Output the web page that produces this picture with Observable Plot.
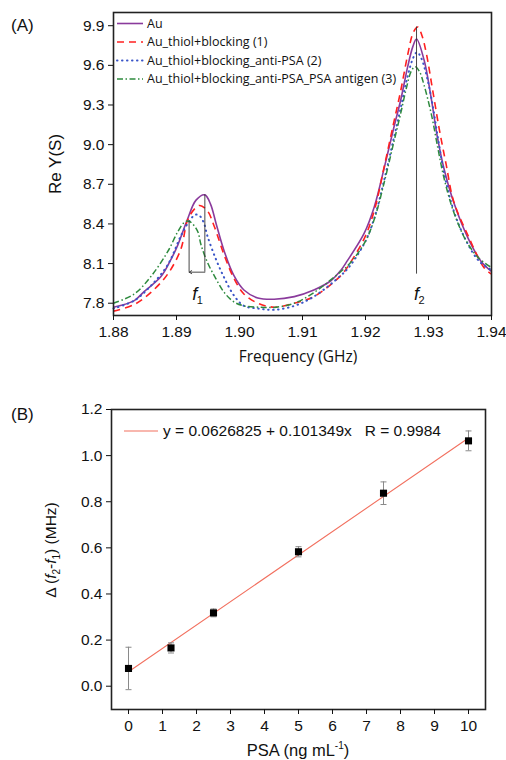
<!DOCTYPE html>
<html>
<head>
<meta charset="utf-8">
<script src="https://cdn.jsdelivr.net/npm/d3@7"></script>
<script src="https://cdn.jsdelivr.net/npm/@observablehq/plot@0.6"></script>
<style>
  html, body { margin: 0; padding: 0; background: #fff; }
  #wrap { width: 506px; height: 760px; overflow: hidden; }
  svg { display: block; }
</style>
</head>
<body>
<div id="wrap"></div>
<script>
// ---------- Panel A data ----------
const freqAu = [1.880,1.8833,1.8849,1.8875,1.8890,1.8902,1.8917,1.8931,1.8945,1.8954,1.8963,1.8976,1.8991,1.9007,1.9029,1.9055,1.9087,1.9118,1.9145,1.9161,1.9171,1.9198,1.9214,1.9230,1.9245,1.9256,1.9267,1.9275,1.9281,1.9293,1.9304,1.9314,1.9325,1.9341,1.9362,1.9383,1.9400];
const reAu   = [7.77,7.82,7.89,8.00,8.12,8.24,8.43,8.58,8.62,8.55,8.40,8.19,8.01,7.90,7.84,7.83,7.85,7.90,7.97,8.05,8.12,8.33,8.53,8.83,9.13,9.34,9.59,9.74,9.80,9.64,9.36,9.06,8.81,8.55,8.30,8.12,8.04];

const freqBlk = [1.880,1.8833,1.8859,1.8886,1.8907,1.8917,1.8928,1.8937,1.8949,1.8960,1.8976,1.8991,1.9007,1.9029,1.9055,1.9087,1.9118,1.9161,1.9175,1.9200,1.9215,1.9230,1.9245,1.9256,1.9267,1.9276,1.9283,1.9290,1.9297,1.9306,1.9317,1.9328,1.9340,1.9362,1.9388,1.9400];
const reBlk   = [7.74,7.79,7.88,8.02,8.21,8.42,8.51,8.54,8.50,8.38,8.16,7.99,7.87,7.80,7.77,7.80,7.85,8.01,8.10,8.31,8.52,8.84,9.17,9.41,9.68,9.85,9.89,9.82,9.68,9.43,9.12,8.85,8.57,8.32,8.07,8.02];

const freqAnti = [1.880,1.8833,1.8859,1.8886,1.8907,1.8920,1.8930,1.8937,1.8944,1.8949,1.8962,1.8976,1.8991,1.9007,1.9029,1.9055,1.9087,1.9118,1.9161,1.9175,1.9200,1.9215,1.9230,1.9245,1.9256,1.9267,1.9276,1.9282,1.9288,1.9295,1.9305,1.9315,1.9325,1.9340,1.9360,1.9380,1.9400];
const reAnti   = [7.76,7.82,7.93,8.09,8.31,8.42,8.47,8.46,8.40,8.31,8.14,7.99,7.86,7.78,7.76,7.75,7.78,7.85,8.01,8.08,8.27,8.46,8.74,9.05,9.28,9.52,9.66,9.70,9.66,9.56,9.34,9.05,8.78,8.50,8.27,8.12,8.05];

const freqAg = [1.880,1.8833,1.8859,1.8886,1.8902,1.8912,1.8920,1.8933,1.8939,1.8949,1.8962,1.8976,1.8991,1.9007,1.9031,1.9058,1.9087,1.9118,1.9161,1.9175,1.9200,1.9215,1.9230,1.9245,1.9256,1.9265,1.9273,1.9279,1.9286,1.9293,1.9305,1.9315,1.9325,1.9340,1.9360,1.9380,1.9400];
const reAg   = [7.80,7.87,8.00,8.19,8.34,8.41,8.42,8.35,8.24,8.11,7.99,7.88,7.81,7.78,7.77,7.77,7.80,7.88,8.04,8.10,8.27,8.45,8.72,9.02,9.24,9.43,9.56,9.59,9.55,9.45,9.22,8.97,8.74,8.49,8.27,8.14,8.07];

const seriesNamesA = ["Au", "Au_thiol+blocking (1)", "Au_thiol+blocking_anti-PSA (2)", "Au_thiol+blocking_anti-PSA_PSA antigen (3)"];
const xTicksA = [1.88, 1.89, 1.90, 1.91, 1.92, 1.93, 1.94];
const yTicksA = [7.8, 8.1, 8.4, 8.7, 9.0, 9.3, 9.6, 9.9];

// annotations (data coordinates)
const f1Freqs = [1.8945, 1.8920];      // peak positions of Au and (3)
const f1Tops  = [8.62, 8.42];
const f1Base  = 8.035;
const f2Freq  = 1.9281;
const f2Top   = 9.89;
const f2Base  = 8.02;
const fLabelFreq = [1.8929, 1.9281];
const fLabelRe   = [7.87, 7.87];
const fLabelSub  = ["1", "2"];

// ---------- Panel B data ----------
const psa     = [0, 1.25, 2.5, 5, 7.5, 10];
const deltaF  = [0.077, 0.166, 0.318, 0.583, 0.837, 1.064];
const deltaErr= [0.092, 0.022, 0.017, 0.022, 0.049, 0.043];
const fitX    = [0, 10];
const fitY    = [0.0627, 1.0762];
const fitLabel = "y = 0.0626825 + 0.101349x   R = 0.9984";
const xTicksB = [0,1,2,3,4,5,6,7,8,9,10];
const yTicksB = [0.0, 0.2, 0.4, 0.6, 0.8, 1.0, 1.2];

// ---------- styles ----------
const styleA = [
  {color: "#8a3a9c", dash: null, width: 1.6, cap: "butt"},
  {color: "#ff2020", dash: "7,5", width: 1.6, cap: "butt"},
  {color: "#3a55c8", dash: "0.5,4.5", width: 2.0, cap: "round"},
  {color: "#2e8a3e", dash: "6,2.5,1.5,2.5", width: 1.5, cap: "butt"}
];
const tbl = (fs, vs) => fs.map((f, i) => ({f, v: vs[i]}));
const dataA = [tbl(freqAu, reAu), tbl(freqBlk, reBlk), tbl(freqAnti, reAnti), tbl(freqAg, reAg)];

const FONT = "'Liberation Sans', Arial, sans-serif";

const plotA = Plot.plot({
  width: 506, height: 370,
  marginLeft: 113, marginRight: 15, marginTop: 12, marginBottom: 55,
  style: {fontFamily: FONT, fontSize: "15px", color: "#111", background: "white"},
  x: {domain: [1.88, 1.94]},
  y: {domain: [7.707, 10.0]},
  marks: [
    ...dataA.map((d, i) => Plot.line(d, {
      x: "f", y: "v", curve: "catmull-rom",
      stroke: styleA[i].color, strokeWidth: styleA[i].width,
      strokeDasharray: styleA[i].dash, strokeLinecap: styleA[i].cap
    })),
    Plot.ruleX(f1Freqs.map((f, i) => ({f, top: f1Tops[i]})), {x: "f", y1: f1Base, y2: "top", stroke: "#333", strokeWidth: 0.9}),
    Plot.arrow([{x1: f1Freqs[0], x2: f1Freqs[1]}], {x1: "x1", x2: "x2", y1: f1Base, y2: f1Base, stroke: "#333", strokeWidth: 0.9, headLength: 5, inset: 0}),
    Plot.ruleX([f2Freq], {x: d => d, y1: f2Base, y2: f2Top, stroke: "#333", strokeWidth: 0.9}),
    Plot.text(fLabelFreq.map((f, i) => ({f, v: fLabelRe[i]})), {x: "f", y: "v", text: () => "f", fontStyle: "italic", fontSize: 18, fill: "#111"}),
    Plot.text(fLabelFreq.map((f, i) => ({f, v: fLabelRe[i], s: fLabelSub[i]})), {x: "f", y: "v", text: "s", dx: 5, dy: 7, fontSize: 11, fill: "#111"}),
    Plot.frame({stroke: "#222", strokeWidth: 1.6}),
    Plot.axisX({ticks: xTicksA, tickFormat: d3.format(".2f"), tickSize: 5, label: null, fontSize: 15.5, tickPadding: 5}),
    Plot.axisY({ticks: yTicksA, tickFormat: d3.format(".1f"), tickSize: 5, label: null, fontSize: 15.5, tickPadding: 4})
  ]
});

const plotB = Plot.plot({
  width: 506, height: 390,
  marginLeft: 111, marginRight: 21, marginTop: 39, marginBottom: 51,
  style: {fontFamily: FONT, fontSize: "15px", color: "#111", background: "white"},
  x: {domain: [-0.5, 10.5]},
  y: {domain: [-0.101, 1.2]},
  marks: [
    Plot.line(fitX.map((x, i) => ({x, y: fitY[i]})), {x: "x", y: "y", stroke: "#f2705f", strokeWidth: 1.1}),
    Plot.ruleX(psa.map((c, i) => ({c, lo: deltaF[i] - deltaErr[i], hi: deltaF[i] + deltaErr[i]})), {x: "c", y1: "lo", y2: "hi", stroke: "#8a8a8a", strokeWidth: 1}),
    Plot.dot(psa.flatMap((c, i) => [{c, y: deltaF[i] - deltaErr[i]}, {c, y: deltaF[i] + deltaErr[i]}]), {
      x: "c", y: "y", r: 3, stroke: "#8a8a8a", strokeWidth: 1,
      symbol: {draw(ctx, size) { const r = Math.sqrt(size / Math.PI); ctx.moveTo(-r, 0); ctx.lineTo(r, 0); }}
    }),
    Plot.dot(psa.map((c, i) => ({c, y: deltaF[i]})), {x: "c", y: "y", symbol: "square", r: 4, fill: "#000", stroke: "none"}),
    Plot.frame({stroke: "#222", strokeWidth: 1.6}),
    Plot.axisX({ticks: xTicksB, tickFormat: d3.format("d"), tickSize: 5, label: null, fontSize: 15.5, tickPadding: 5}),
    Plot.axisY({ticks: yTicksB, tickFormat: d3.format(".1f"), tickSize: 5, label: null, fontSize: 15.5, tickPadding: 4})
  ]
});

const wrap = document.getElementById("wrap");
wrap.appendChild(plotA);
wrap.appendChild(plotB);

// ---------- labels & legends ----------
const sA = d3.select(plotA);
sA.append("text").attr("x", 11).attr("y", 31).attr("text-anchor", "start").attr("font-size", 17).attr("font-family", FONT).attr("fill", "#111").text("(A)");
sA.append("text").attr("transform", "translate(61,164) rotate(-90)").attr("text-anchor", "middle")
  .attr("font-size", 17).attr("font-family", FONT).attr("fill", "#111").text("Re Y(S)");
sA.append("text").attr("x", 298).attr("y", 362).attr("text-anchor", "middle")
  .attr("font-size", 15.5).attr("font-family", "'Open Sans', sans-serif").attr("fill", "#111").text("Frequency (GHz)");

const legY = [23.5, 42, 60.5, 79];
seriesNamesA.forEach((name, i) => {
  sA.append("line").attr("x1", 117).attr("x2", 143).attr("y1", legY[i]).attr("y2", legY[i])
    .attr("stroke", styleA[i].color).attr("stroke-width", styleA[i].width)
    .attr("stroke-dasharray", styleA[i].dash).attr("stroke-linecap", styleA[i].cap);
  sA.append("text").attr("x", 147).attr("y", legY[i]).attr("dy", "0.35em").attr("text-anchor", "start")
    .attr("font-size", 12.5).attr("font-family", "'Open Sans', sans-serif").attr("fill", "#111").text(name);
});

const sB = d3.select(plotB);
sB.append("text").attr("x", 11).attr("y", 50).attr("text-anchor", "start").attr("font-size", 17).attr("font-family", FONT).attr("fill", "#111").text("(B)");
sB.append("line").attr("x1", 124).attr("x2", 158).attr("y1", 61).attr("y2", 61).attr("stroke", "#f2705f").attr("stroke-width", 1.1);
sB.append("text").attr("x", 163).attr("y", 61).attr("dy", "0.35em").attr("text-anchor", "start").attr("font-size", 15.5).attr("font-family", FONT).attr("fill", "#111")
  .attr("xml:space", "preserve").style("white-space", "pre").text(fitLabel);

const yl = sB.append("text").attr("transform", "translate(56,180) rotate(-90)").attr("text-anchor", "middle")
  .attr("font-size", 15.5).attr("font-family", FONT).attr("fill", "#111");
yl.append("tspan").text("\u0394 (");
yl.append("tspan").attr("font-style", "italic").text("f");
yl.append("tspan").attr("font-size", 10).attr("dy", 4).text("2");
yl.append("tspan").attr("dy", -4).text("-");
yl.append("tspan").attr("font-style", "italic").text("f");
yl.append("tspan").attr("font-size", 10).attr("dy", 4).text("1");
yl.append("tspan").attr("dy", -4).text(") (MHz)");

const xl = sB.append("text").attr("x", 298).attr("y", 386).attr("text-anchor", "middle")
  .attr("font-size", 16.5).attr("font-family", FONT).attr("fill", "#111");
xl.append("tspan").text("PSA (ng mL");
xl.append("tspan").attr("font-size", 10).attr("dy", -7).text("-1");
xl.append("tspan").attr("dy", 7).text(")");
</script>
</body>
</html>
